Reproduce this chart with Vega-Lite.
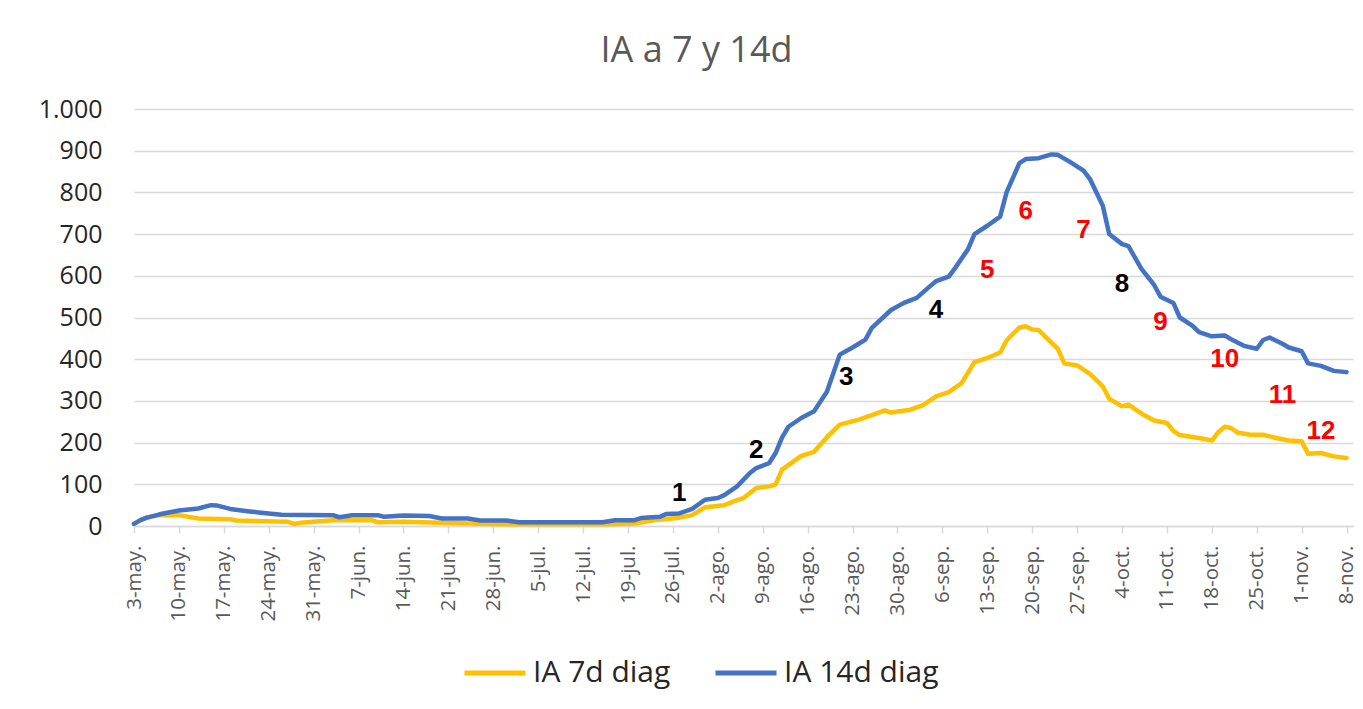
{
  "$schema": "https://vega.github.io/schema/vega-lite/v6.json",
  "width": 1219,
  "height": 417,
  "autosize": {"type": "none"},
  "padding": {"left": 134, "top": 109, "right": 10, "bottom": 183},
  "background": "#ffffff",
  "title": {"text": "IA a 7 y 14d", "fontSize": 36, "font": "Open Sans", "fontWeight": "normal", "color": "#595959", "anchor": "middle", "dx": -47, "offset": 27},
  "config": {"view": {"stroke": null}, "font": "Open Sans"},
  "datasets": {
    "series": [
      {"d": "2020-05-03", "s": "IA 7d diag", "v": 5},
      {"d": "2020-05-04", "s": "IA 7d diag", "v": 14},
      {"d": "2020-05-05", "s": "IA 7d diag", "v": 20},
      {"d": "2020-05-07", "s": "IA 7d diag", "v": 26},
      {"d": "2020-05-10", "s": "IA 7d diag", "v": 26},
      {"d": "2020-05-13", "s": "IA 7d diag", "v": 18},
      {"d": "2020-05-18", "s": "IA 7d diag", "v": 16},
      {"d": "2020-05-19", "s": "IA 7d diag", "v": 13},
      {"d": "2020-05-27", "s": "IA 7d diag", "v": 10},
      {"d": "2020-05-28", "s": "IA 7d diag", "v": 5},
      {"d": "2020-05-29", "s": "IA 7d diag", "v": 8},
      {"d": "2020-06-03", "s": "IA 7d diag", "v": 14},
      {"d": "2020-06-09", "s": "IA 7d diag", "v": 14},
      {"d": "2020-06-10", "s": "IA 7d diag", "v": 9},
      {"d": "2020-06-14", "s": "IA 7d diag", "v": 10},
      {"d": "2020-06-24", "s": "IA 7d diag", "v": 6},
      {"d": "2020-06-30", "s": "IA 7d diag", "v": 4},
      {"d": "2020-07-15", "s": "IA 7d diag", "v": 4},
      {"d": "2020-07-20", "s": "IA 7d diag", "v": 6},
      {"d": "2020-07-23", "s": "IA 7d diag", "v": 14},
      {"d": "2020-07-27", "s": "IA 7d diag", "v": 20},
      {"d": "2020-07-29", "s": "IA 7d diag", "v": 26},
      {"d": "2020-07-31", "s": "IA 7d diag", "v": 45},
      {"d": "2020-08-03", "s": "IA 7d diag", "v": 50},
      {"d": "2020-08-05", "s": "IA 7d diag", "v": 62},
      {"d": "2020-08-06", "s": "IA 7d diag", "v": 67},
      {"d": "2020-08-08", "s": "IA 7d diag", "v": 91},
      {"d": "2020-08-10", "s": "IA 7d diag", "v": 95},
      {"d": "2020-08-11", "s": "IA 7d diag", "v": 100},
      {"d": "2020-08-12", "s": "IA 7d diag", "v": 135},
      {"d": "2020-08-15", "s": "IA 7d diag", "v": 168},
      {"d": "2020-08-17", "s": "IA 7d diag", "v": 178},
      {"d": "2020-08-19", "s": "IA 7d diag", "v": 213},
      {"d": "2020-08-21", "s": "IA 7d diag", "v": 243},
      {"d": "2020-08-24", "s": "IA 7d diag", "v": 255},
      {"d": "2020-08-26", "s": "IA 7d diag", "v": 266},
      {"d": "2020-08-28", "s": "IA 7d diag", "v": 277},
      {"d": "2020-08-29", "s": "IA 7d diag", "v": 272},
      {"d": "2020-09-01", "s": "IA 7d diag", "v": 279},
      {"d": "2020-09-03", "s": "IA 7d diag", "v": 290},
      {"d": "2020-09-05", "s": "IA 7d diag", "v": 311},
      {"d": "2020-09-07", "s": "IA 7d diag", "v": 321},
      {"d": "2020-09-09", "s": "IA 7d diag", "v": 343},
      {"d": "2020-09-11", "s": "IA 7d diag", "v": 393},
      {"d": "2020-09-13", "s": "IA 7d diag", "v": 403},
      {"d": "2020-09-15", "s": "IA 7d diag", "v": 416},
      {"d": "2020-09-16", "s": "IA 7d diag", "v": 445},
      {"d": "2020-09-18", "s": "IA 7d diag", "v": 476},
      {"d": "2020-09-19", "s": "IA 7d diag", "v": 479},
      {"d": "2020-09-20", "s": "IA 7d diag", "v": 471},
      {"d": "2020-09-21", "s": "IA 7d diag", "v": 470},
      {"d": "2020-09-22", "s": "IA 7d diag", "v": 455},
      {"d": "2020-09-24", "s": "IA 7d diag", "v": 425},
      {"d": "2020-09-25", "s": "IA 7d diag", "v": 390},
      {"d": "2020-09-27", "s": "IA 7d diag", "v": 385},
      {"d": "2020-09-29", "s": "IA 7d diag", "v": 365},
      {"d": "2020-10-01", "s": "IA 7d diag", "v": 335},
      {"d": "2020-10-02", "s": "IA 7d diag", "v": 305},
      {"d": "2020-10-04", "s": "IA 7d diag", "v": 287},
      {"d": "2020-10-05", "s": "IA 7d diag", "v": 291},
      {"d": "2020-10-07", "s": "IA 7d diag", "v": 270},
      {"d": "2020-10-09", "s": "IA 7d diag", "v": 253},
      {"d": "2020-10-11", "s": "IA 7d diag", "v": 247},
      {"d": "2020-10-12", "s": "IA 7d diag", "v": 228},
      {"d": "2020-10-13", "s": "IA 7d diag", "v": 218},
      {"d": "2020-10-16", "s": "IA 7d diag", "v": 211},
      {"d": "2020-10-18", "s": "IA 7d diag", "v": 205},
      {"d": "2020-10-19", "s": "IA 7d diag", "v": 225},
      {"d": "2020-10-20", "s": "IA 7d diag", "v": 238},
      {"d": "2020-10-21", "s": "IA 7d diag", "v": 235},
      {"d": "2020-10-22", "s": "IA 7d diag", "v": 224},
      {"d": "2020-10-24", "s": "IA 7d diag", "v": 219},
      {"d": "2020-10-26", "s": "IA 7d diag", "v": 219},
      {"d": "2020-10-28", "s": "IA 7d diag", "v": 211},
      {"d": "2020-10-30", "s": "IA 7d diag", "v": 205},
      {"d": "2020-11-01", "s": "IA 7d diag", "v": 203},
      {"d": "2020-11-02", "s": "IA 7d diag", "v": 173},
      {"d": "2020-11-04", "s": "IA 7d diag", "v": 175},
      {"d": "2020-11-06", "s": "IA 7d diag", "v": 167},
      {"d": "2020-11-08", "s": "IA 7d diag", "v": 163},
      {"d": "2020-05-03", "s": "IA 14d diag", "v": 5},
      {"d": "2020-05-04", "s": "IA 14d diag", "v": 14},
      {"d": "2020-05-05", "s": "IA 14d diag", "v": 20},
      {"d": "2020-05-07", "s": "IA 14d diag", "v": 28},
      {"d": "2020-05-10", "s": "IA 14d diag", "v": 37},
      {"d": "2020-05-13", "s": "IA 14d diag", "v": 42},
      {"d": "2020-05-15", "s": "IA 14d diag", "v": 50},
      {"d": "2020-05-16", "s": "IA 14d diag", "v": 49},
      {"d": "2020-05-18", "s": "IA 14d diag", "v": 41},
      {"d": "2020-05-21", "s": "IA 14d diag", "v": 35},
      {"d": "2020-05-24", "s": "IA 14d diag", "v": 30},
      {"d": "2020-05-26", "s": "IA 14d diag", "v": 27},
      {"d": "2020-06-03", "s": "IA 14d diag", "v": 26},
      {"d": "2020-06-04", "s": "IA 14d diag", "v": 21},
      {"d": "2020-06-06", "s": "IA 14d diag", "v": 26},
      {"d": "2020-06-10", "s": "IA 14d diag", "v": 26},
      {"d": "2020-06-11", "s": "IA 14d diag", "v": 22},
      {"d": "2020-06-14", "s": "IA 14d diag", "v": 25},
      {"d": "2020-06-18", "s": "IA 14d diag", "v": 24},
      {"d": "2020-06-20", "s": "IA 14d diag", "v": 18},
      {"d": "2020-06-24", "s": "IA 14d diag", "v": 18},
      {"d": "2020-06-26", "s": "IA 14d diag", "v": 13},
      {"d": "2020-06-30", "s": "IA 14d diag", "v": 13},
      {"d": "2020-07-02", "s": "IA 14d diag", "v": 9},
      {"d": "2020-07-15", "s": "IA 14d diag", "v": 9},
      {"d": "2020-07-17", "s": "IA 14d diag", "v": 14},
      {"d": "2020-07-20", "s": "IA 14d diag", "v": 14},
      {"d": "2020-07-21", "s": "IA 14d diag", "v": 19},
      {"d": "2020-07-24", "s": "IA 14d diag", "v": 22},
      {"d": "2020-07-25", "s": "IA 14d diag", "v": 29},
      {"d": "2020-07-27", "s": "IA 14d diag", "v": 30},
      {"d": "2020-07-29", "s": "IA 14d diag", "v": 41},
      {"d": "2020-07-31", "s": "IA 14d diag", "v": 63},
      {"d": "2020-08-02", "s": "IA 14d diag", "v": 67},
      {"d": "2020-08-03", "s": "IA 14d diag", "v": 74},
      {"d": "2020-08-05", "s": "IA 14d diag", "v": 95},
      {"d": "2020-08-07", "s": "IA 14d diag", "v": 127},
      {"d": "2020-08-08", "s": "IA 14d diag", "v": 139},
      {"d": "2020-08-10", "s": "IA 14d diag", "v": 151},
      {"d": "2020-08-11", "s": "IA 14d diag", "v": 175},
      {"d": "2020-08-12", "s": "IA 14d diag", "v": 212},
      {"d": "2020-08-13", "s": "IA 14d diag", "v": 238},
      {"d": "2020-08-15", "s": "IA 14d diag", "v": 259},
      {"d": "2020-08-17", "s": "IA 14d diag", "v": 275},
      {"d": "2020-08-19", "s": "IA 14d diag", "v": 322},
      {"d": "2020-08-21", "s": "IA 14d diag", "v": 411},
      {"d": "2020-08-23", "s": "IA 14d diag", "v": 428},
      {"d": "2020-08-25", "s": "IA 14d diag", "v": 447},
      {"d": "2020-08-26", "s": "IA 14d diag", "v": 475},
      {"d": "2020-08-29", "s": "IA 14d diag", "v": 518},
      {"d": "2020-08-31", "s": "IA 14d diag", "v": 535},
      {"d": "2020-09-02", "s": "IA 14d diag", "v": 547},
      {"d": "2020-09-04", "s": "IA 14d diag", "v": 574},
      {"d": "2020-09-05", "s": "IA 14d diag", "v": 587},
      {"d": "2020-09-07", "s": "IA 14d diag", "v": 598},
      {"d": "2020-09-08", "s": "IA 14d diag", "v": 619},
      {"d": "2020-09-10", "s": "IA 14d diag", "v": 664},
      {"d": "2020-09-11", "s": "IA 14d diag", "v": 700},
      {"d": "2020-09-13", "s": "IA 14d diag", "v": 720},
      {"d": "2020-09-15", "s": "IA 14d diag", "v": 742},
      {"d": "2020-09-16", "s": "IA 14d diag", "v": 800},
      {"d": "2020-09-18", "s": "IA 14d diag", "v": 870},
      {"d": "2020-09-19", "s": "IA 14d diag", "v": 880},
      {"d": "2020-09-21", "s": "IA 14d diag", "v": 882},
      {"d": "2020-09-23", "s": "IA 14d diag", "v": 891},
      {"d": "2020-09-24", "s": "IA 14d diag", "v": 890},
      {"d": "2020-09-26", "s": "IA 14d diag", "v": 872},
      {"d": "2020-09-28", "s": "IA 14d diag", "v": 852},
      {"d": "2020-09-29", "s": "IA 14d diag", "v": 832},
      {"d": "2020-10-01", "s": "IA 14d diag", "v": 768},
      {"d": "2020-10-02", "s": "IA 14d diag", "v": 700},
      {"d": "2020-10-04", "s": "IA 14d diag", "v": 676},
      {"d": "2020-10-05", "s": "IA 14d diag", "v": 671},
      {"d": "2020-10-07", "s": "IA 14d diag", "v": 617},
      {"d": "2020-10-09", "s": "IA 14d diag", "v": 578},
      {"d": "2020-10-10", "s": "IA 14d diag", "v": 550},
      {"d": "2020-10-12", "s": "IA 14d diag", "v": 535},
      {"d": "2020-10-13", "s": "IA 14d diag", "v": 500},
      {"d": "2020-10-15", "s": "IA 14d diag", "v": 480},
      {"d": "2020-10-16", "s": "IA 14d diag", "v": 465},
      {"d": "2020-10-18", "s": "IA 14d diag", "v": 455},
      {"d": "2020-10-20", "s": "IA 14d diag", "v": 457},
      {"d": "2020-10-21", "s": "IA 14d diag", "v": 448},
      {"d": "2020-10-23", "s": "IA 14d diag", "v": 432},
      {"d": "2020-10-25", "s": "IA 14d diag", "v": 425},
      {"d": "2020-10-26", "s": "IA 14d diag", "v": 446},
      {"d": "2020-10-27", "s": "IA 14d diag", "v": 452},
      {"d": "2020-10-29", "s": "IA 14d diag", "v": 437},
      {"d": "2020-10-30", "s": "IA 14d diag", "v": 428},
      {"d": "2020-11-01", "s": "IA 14d diag", "v": 419},
      {"d": "2020-11-02", "s": "IA 14d diag", "v": 390},
      {"d": "2020-11-04", "s": "IA 14d diag", "v": 384},
      {"d": "2020-11-06", "s": "IA 14d diag", "v": 372},
      {"d": "2020-11-08", "s": "IA 14d diag", "v": 369}
    ],
    "notes": [
      {"d": "2020-07-27", "v": 79, "t": "1", "k": "negro"},
      {"d": "2020-08-08", "v": 182, "t": "2", "k": "negro"},
      {"d": "2020-08-22", "v": 357, "t": "3", "k": "negro"},
      {"d": "2020-09-05", "v": 518, "t": "4", "k": "negro"},
      {"d": "2020-09-13", "v": 614, "t": "5", "k": "rojo"},
      {"d": "2020-09-19", "v": 755, "t": "6", "k": "rojo"},
      {"d": "2020-09-28", "v": 710, "t": "7", "k": "rojo"},
      {"d": "2020-10-04", "v": 580, "t": "8", "k": "negro"},
      {"d": "2020-10-10", "v": 489, "t": "9", "k": "rojo"},
      {"d": "2020-10-20", "v": 400, "t": "10", "k": "rojo"},
      {"d": "2020-10-29", "v": 314, "t": "11", "k": "rojo"},
      {"d": "2020-11-04", "v": 228, "t": "12", "k": "rojo"}
    ]
  },
  "layer": [
    {
      "data": {"name": "series"},
      "mark": {"type": "line", "strokeWidth": 4.5, "strokeJoin": "round", "strokeCap": "round"},
      "encoding": {
        "x": {
          "field": "d", "type": "temporal",
          "scale": {"type": "utc", "domain": [{"year": 2020, "month": 5, "date": 3, "utc": true}, {"year": 2020, "month": 11, "date": 9, "utc": true}]},
          "axis": {
            "title": null, "grid": false,
            "tickCount": {"interval": "week", "step": 1},
            "labelExpr": "utcdate(datum.value) + '-' + ['ene.','feb.','mar.','abr.','may.','jun.','jul.','ago.','sep.','oct.','nov.','dic.'][utcmonth(datum.value)]",
            "labelAngle": -90, "labelAlign": "right", "labelBaseline": "middle",
            "labelFontSize": 20.5, "labelColor": "#595959", "labelFont": "Open Sans",
            "labelPadding": 12, "labelOverlap": false, "labelFlush": false,
            "tickSize": 7, "tickColor": "#d9d9d9", "domainColor": "#d9d9d9", "domainWidth": 1.5, "tickWidth": 1.5
          }
        },
        "y": {
          "field": "v", "type": "quantitative",
          "scale": {"domain": [0, 1000], "nice": false},
          "axis": {
            "title": null, "values": [0, 100, 200, 300, 400, 500, 600, 700, 800, 900, 1000],
            "labelExpr": "replace(format(datum.value, ','), ',', '.')",
            "domain": false, "ticks": false, "grid": true, "gridColor": "#d9d9d9", "gridWidth": 1.5,
            "labelFontSize": 25, "labelColor": "#262626", "labelFont": "Open Sans", "labelPadding": 32
          }
        },
        "color": {
          "field": "s", "type": "nominal",
          "scale": {"domain": ["IA 7d diag", "IA 14d diag"], "range": ["#FFC000", "#4472C4"]},
          "legend": {
            "orient": "none", "legendX": 328, "legendY": 531, "direction": "horizontal", "title": null,
            "symbolType": "stroke", "symbolSize": 3721, "symbolStrokeWidth": 5,
            "labelFontSize": 30, "labelColor": "#262626", "labelFont": "Open Sans",
            "columnPadding": 34, "labelOffset": 5
          }
        }
      }
    },
    {
      "data": {"name": "notes"},
      "mark": {"type": "text", "font": "Liberation Sans", "fontWeight": "bold", "fontSize": 26, "align": "center", "baseline": "middle"},
      "encoding": {
        "x": {"field": "d", "type": "temporal"},
        "y": {"field": "v", "type": "quantitative"},
        "text": {"field": "t"},
        "fill": {"field": "k", "type": "nominal", "scale": {"domain": ["negro", "rojo"], "range": ["#000000", "#FF0000"]}, "legend": null}
      }
    }
  ]
}
